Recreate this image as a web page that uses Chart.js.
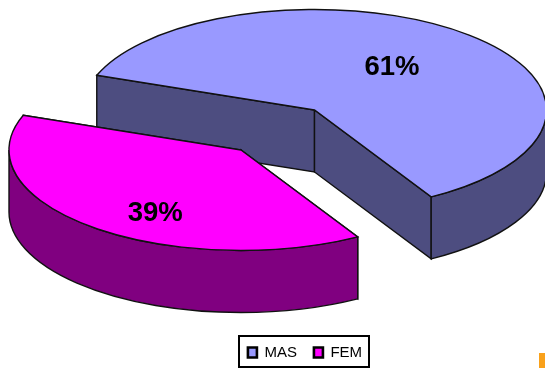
<!DOCTYPE html>
<html lang="en">
<head>
  <meta charset="UTF-8">
  <title>MAS / FEM</title>
  <script src="https://cdn.jsdelivr.net/npm/chart.js"></script>
  <style>
    body { margin: 0; background: #fff; }
    .wrap { position: relative; width: 545px; height: 368px; overflow: hidden; }
    .corner { position: absolute; left: 539px; top: 353px; width: 6px; height: 15px; background: #f9a11b; }
  </style>
</head>
<body>

<div class="wrap">
  <canvas id="grafico"></canvas>
  <div class="corner"></div>
</div>

<script>
  const categorias = ['MAS', 'FEM'];
  const valores = [61, 39];

  const coresTopo = ['#9999ff', '#ff00ff'];
  const coresLado = ['#4d4d80', '#800080'];

  // pie geometry on screen
  const centro = { x: 314.5, y: 110 };
  const raio = 232;
  const achatado = 100.5 / 232;
  const altura = 62;
  const explodir = [[0, 0], [-73.5, 40]];
  // label anchors, in radius units from each slice's own centre
  const rotulos = [[0.334, -0.435], [-0.37, 0.62]];

  function parede(ctx, pontos, cor) {
    ctx.beginPath();
    pontos.forEach((p, i) => i ? ctx.lineTo(p[0], p[1]) : ctx.moveTo(p[0], p[1]));
    ctx.closePath();
    ctx.fillStyle = cor;
    ctx.fill();
    ctx.stroke();
  }

  // draws each slice by hand so the walls sit under the flattened top
  const pie3d = {
    id: 'pie3d',
    beforeDatasetDraw(chart, args) {
      const ctx = chart.ctx;
      const arcos = chart.getDatasetMeta(args.index).data;

      arcos.forEach((arco, i) => {
        const a0 = arco.startAngle, a1 = arco.endAngle;
        const cx = centro.x + explodir[i][0];
        const cy = centro.y + explodir[i][1];
        const rx = arco.outerRadius, ry = arco.outerRadius * achatado;
        const px = a => cx + Math.cos(a) * rx;
        const py = a => cy + Math.sin(a) * ry;

        ctx.save();
        ctx.strokeStyle = '#111';
        ctx.lineWidth = 1.4;

        // cut faces
        parede(ctx, [[px(a0), py(a0)], [cx, cy], [cx, cy + altura], [px(a0), py(a0) + altura]], coresLado[i]);
        parede(ctx, [[px(a1), py(a1)], [cx, cy], [cx, cy + altura], [px(a1), py(a1) + altura]], coresLado[i]);

        // rim, front half only
        const ini = Math.max(a0, 0), fim = Math.min(a1, Math.PI);
        if (fim > ini) {
          ctx.beginPath();
          ctx.ellipse(cx, cy, rx, ry, 0, ini, fim);
          ctx.ellipse(cx, cy + altura, rx, ry, 0, fim, ini, true);
          ctx.closePath();
          ctx.fillStyle = coresLado[i];
          ctx.fill();
          ctx.stroke();
        }

        // top face, library arc squashed into an ellipse
        ctx.save();
        ctx.translate(cx, cy);
        ctx.scale(1, achatado);
        ctx.translate(-arco.x, -arco.y);
        arco.draw(ctx);
        ctx.restore();

        ctx.beginPath();
        ctx.moveTo(cx, cy);
        ctx.ellipse(cx, cy, rx, ry, 0, a0, a1);
        ctx.closePath();
        ctx.stroke();

        ctx.fillStyle = '#000';
        ctx.font = 'bold 27.5px "Liberation Sans", Arial, sans-serif';
        ctx.textAlign = 'center';
        ctx.textBaseline = 'middle';
        ctx.fillText(valores[i] + '%', cx + rotulos[i][0] * rx, cy + rotulos[i][1] * ry + 1);
        ctx.restore();
      });
      return false;
    },
    afterDraw(chart) {
      // frame around the legend
      const ctx = chart.ctx;
      ctx.save();
      ctx.strokeStyle = '#000';
      ctx.lineWidth = 2;
      ctx.strokeRect(239, 336, 130, 31);
      ctx.restore();
    }
  };

  new Chart(document.getElementById('grafico'), {
    type: 'pie',
    data: {
      labels: categorias,
      datasets: [{
        data: valores,
        backgroundColor: coresTopo,
        borderWidth: 0,
        radius: raio,
        clip: false
      }]
    },
    options: {
      responsive: true,
      maintainAspectRatio: false,
      animation: false,
      rotation: -69.8,
      layout: { padding: { left: 65, bottom: -2 } },
      plugins: {
        tooltip: { enabled: false },
        legend: {
          position: 'bottom',
          labels: {
            boxWidth: 9,
            boxHeight: 10,
            padding: 17,
            color: '#000',
            font: { family: '"Liberation Sans", Arial, sans-serif', size: 15 },
            generateLabels(chart) {
              return Chart.overrides.pie.plugins.legend.labels.generateLabels(chart).map(item => {
                item.strokeStyle = '#000';
                item.lineWidth = 2.6;
                return item;
              });
            }
          }
        }
      }
    },
    plugins: [pie3d]
  });
</script>

</body>
</html>
